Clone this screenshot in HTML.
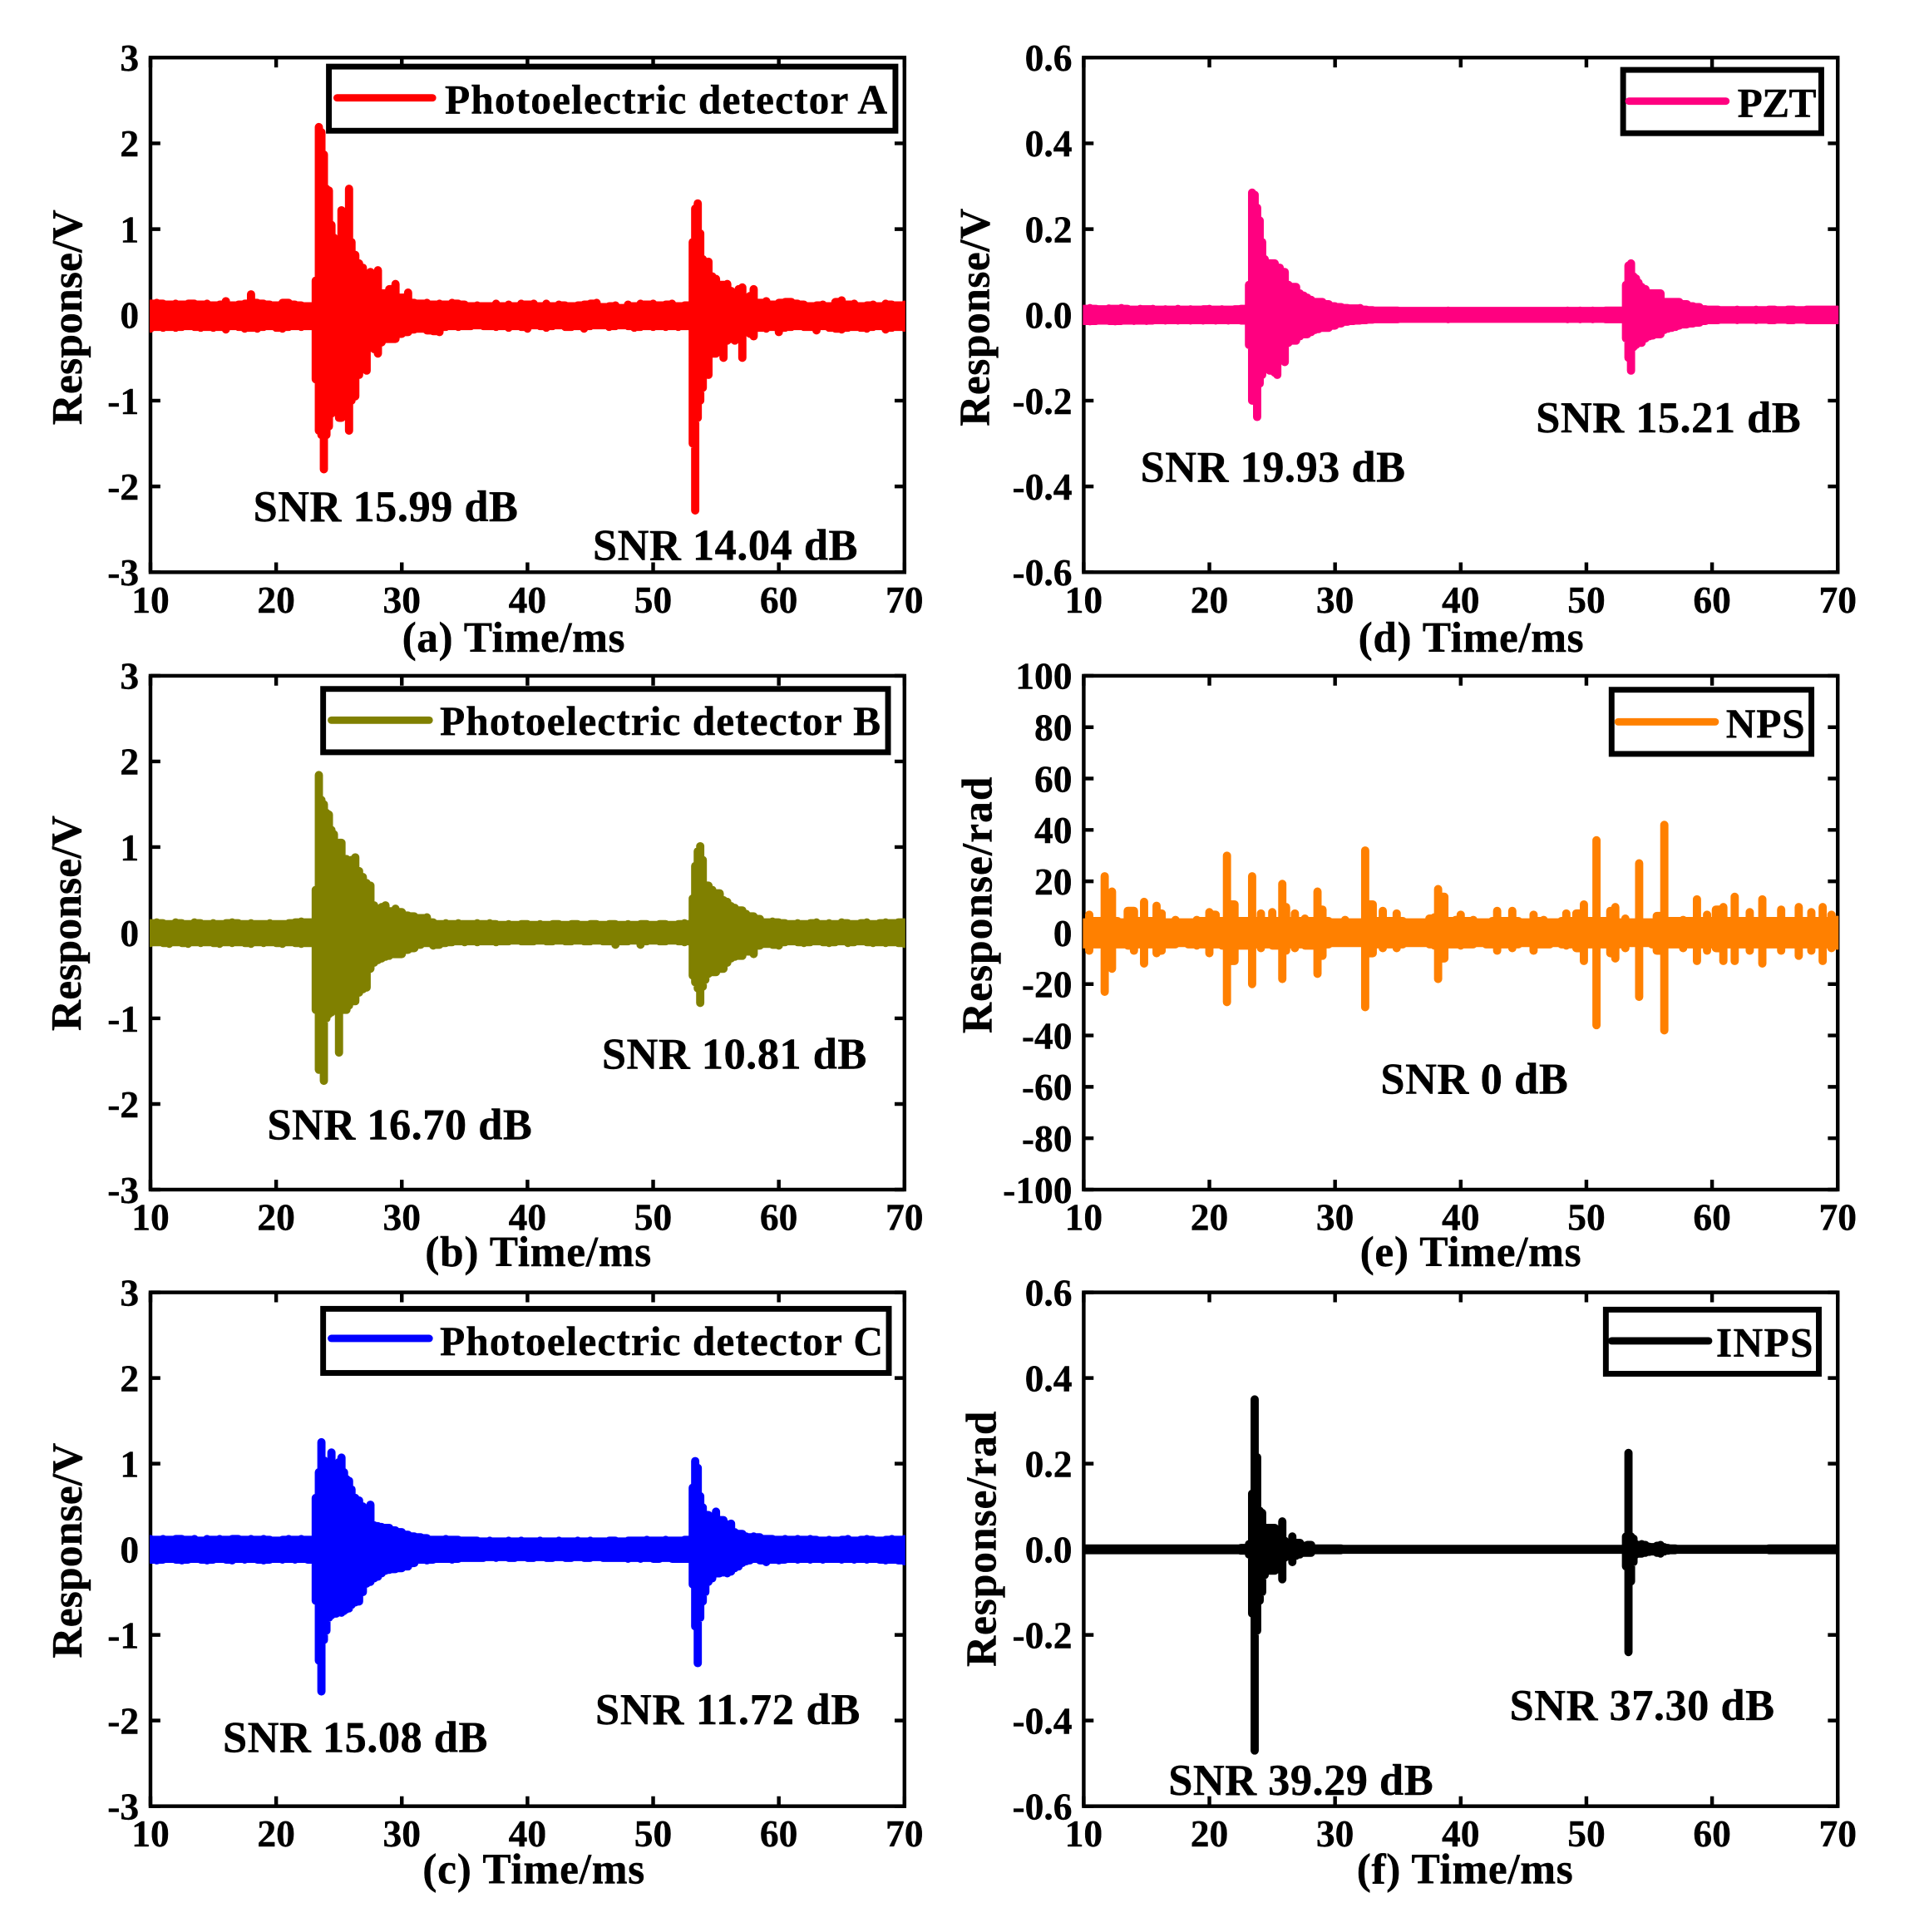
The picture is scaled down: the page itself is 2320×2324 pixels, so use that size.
<!DOCTYPE html>
<html lang="en">
<head>
<meta charset="utf-8">
<title>Response signals and SNR</title>
<style>
html,body{margin:0;padding:0;background:#fff;}
svg{display:block;}
text{font-family:"Liberation Serif",serif;font-weight:bold;fill:#000;stroke:#000;stroke-width:.4px;}
.tick{font-size:46px;}
.lab{font-size:52px;}
.leg{font-size:50px;}
.snr{font-size:53px;}
</style>
</head>
<body>
<svg id="figure" xmlns="http://www.w3.org/2000/svg" width="2320" height="2324" viewBox="0 0 2346 2350">
<rect width="2346" height="2350" fill="#fff"/>

<g id="panel-a">
<g id="plot-a"></g>
<text class="lab" text-anchor="middle" textLength="262" transform="translate(99,386) rotate(-90)">Response/V</text>
<text class="lab" x="489" y="793" textLength="271">(a) Time/ms</text>
<rect x="400" y="81" width="689" height="78" fill="#fff" stroke="#000" stroke-width="7"/>
<line x1="410" y1="119" x2="526" y2="119" stroke="#ff0000" stroke-width="9" stroke-linecap="round"/>
<text class="leg" x="541" y="138" textLength="538">Photoelectric detector A</text>
<text class="snr" x="308" y="634" textLength="322">SNR 15.99 dB</text>
<text class="snr" x="721" y="681" textLength="322">SNR 14.04 dB</text>
</g>

<g id="panel-b">
<g id="plot-b"></g>
<text class="lab" text-anchor="middle" textLength="262" transform="translate(98,1123) rotate(-90)">Response/V</text>
<text class="lab" x="517" y="1540" textLength="275">(b) Time/ms</text>
<rect x="393" y="838" width="687" height="77" fill="#fff" stroke="#000" stroke-width="7"/>
<line x1="403" y1="876" x2="522" y2="876" stroke="#808000" stroke-width="9" stroke-linecap="round"/>
<text class="leg" x="535" y="894" textLength="536">Photoelectric detector B</text>
<text class="snr" x="325" y="1386" textLength="322">SNR 16.70 dB</text>
<text class="snr" x="732" y="1300" textLength="322">SNR 10.81 dB</text>
</g>

<g id="panel-c">
<g id="plot-c"></g>
<text class="lab" text-anchor="middle" textLength="262" transform="translate(99,1886) rotate(-90)">Response/V</text>
<text class="lab" x="514" y="2291" textLength="270">(c) Time/ms</text>
<rect x="393" y="1592" width="688" height="78" fill="#fff" stroke="#000" stroke-width="7"/>
<line x1="403" y1="1628" x2="522" y2="1628" stroke="#0000ff" stroke-width="9" stroke-linecap="round"/>
<text class="leg" x="535" y="1648" textLength="539">Photoelectric detector C</text>
<text class="snr" x="271" y="2131" textLength="322">SNR 15.08 dB</text>
<text class="snr" x="724" y="2097" textLength="322">SNR 11.72 dB</text>
</g>

<g id="panel-d">
<g id="plot-d"></g>
<text class="lab" text-anchor="middle" textLength="265" transform="translate(1203,386) rotate(-90)">Response/V</text>
<text class="lab" x="1652" y="793" textLength="274">(d) Time/ms</text>
<rect x="1974" y="85" width="241" height="77" fill="#fff" stroke="#000" stroke-width="7"/>
<line x1="1981" y1="123" x2="2099" y2="123" stroke="#ff0080" stroke-width="9" stroke-linecap="round"/>
<text class="leg" x="2113" y="142" textLength="96">PZT</text>
<text class="snr" x="1387" y="586" textLength="322">SNR 19.93 dB</text>
<text class="snr" x="1868" y="526" textLength="322">SNR 15.21 dB</text>
</g>

<g id="panel-e">
<g id="plot-e"></g>
<text class="lab" text-anchor="middle" textLength="312" transform="translate(1206,1101) rotate(-90)">Response/rad</text>
<text class="lab" x="1654" y="1540" textLength="269">(e) Time/ms</text>
<rect x="1960" y="839" width="243" height="78" fill="#fff" stroke="#000" stroke-width="7"/>
<line x1="1968" y1="878" x2="2086" y2="878" stroke="#ff8000" stroke-width="9" stroke-linecap="round"/>
<text class="leg" x="2099" y="897" textLength="96">NPS</text>
<text class="snr" x="1679" y="1330" textLength="228">SNR 0 dB</text>
</g>

<g id="panel-f">
<g id="plot-f"></g>
<text class="lab" text-anchor="middle" textLength="311" transform="translate(1211,1872) rotate(-90)">Response/rad</text>
<text class="lab" x="1650" y="2291" textLength="263">(f) Time/ms</text>
<rect x="1953" y="1593" width="259" height="78" fill="#fff" stroke="#000" stroke-width="7"/>
<line x1="1960" y1="1631" x2="2078" y2="1631" stroke="#000" stroke-width="9" stroke-linecap="round"/>
<text class="leg" x="2087" y="1650" textLength="118">INPS</text>
<text class="snr" x="1421" y="2183" textLength="322">SNR 39.29 dB</text>
<text class="snr" x="1836" y="2092" textLength="322">SNR 37.30 dB</text>
</g>
</svg>

<script>
// Shared sample times (ms) for panels a, b, c, d, f
const timeMs = [
10,10.5,11,11.5,12,12.5,13,13.5,14,14.5,15,15.5,16,16.5,17,17.5,18,18.5,19,19.5,20,20.5,21,21.5,22,22.5,23.15,
23.4,23.6,23.8,24,24.2,24.4,24.6,24.8,25,25.2,25.4,25.6,25.8,26,26.3,26.6,26.9,27.2,27.5,27.8,28.1,28.4,28.7,29,29.5,30,
30.5,31,31.5,32,32.5,33,33.5,34,34.5,35,35.5,36,36.5,37,37.5,38,38.5,39,39.5,40,40.5,41,41.5,42,42.5,43,43.5,44,44.5,45,45.5,46,46.5,47,47.5,48,48.5,49,49.5,50,50.5,51,51.5,52,52.5,53,
53.15,53.35,53.55,53.75,53.95,54.15,54.4,54.7,55,55.3,55.6,55.9,56.2,56.5,56.8,57.1,57.4,57.7,58,58.5,
59,59.5,60,60.5,61,61.5,62,62.5,63,63.5,64,64.5,65,65.5,66,66.5,67,67.5,68,68.5,69,69.5,70
];

const upperA = [
.13,.14,.13,.12,.13,.12,.13,.13,.12,.13,.11,.12,.16,.11,.12,.13,.24,.14,.13,.12,.11,.14,.14,.12,.11,.1,.4,
2.19,2.13,1.87,1.47,1.45,1.05,.9,.85,.8,1.22,.75,.7,1.47,.85,.7,.6,.55,.45,.5,.45,.52,.25,.25,.3,.36,.2,
.26,.14,.13,.14,.12,.13,.12,.14,.13,.12,.1,.11,.1,.1,.13,.1,.12,.1,.13,.12,.13,.1,.13,.1,.12,.11,.1,.11,.12,.13,.14,.09,.1,.11,.08,.12,.1,.13,.12,.13,.11,.12,.13,.1,.11,.12,
.85,1.24,1.3,.95,.65,.5,.62,.45,.42,.35,.35,.36,.28,.22,.3,.32,.2,.22,.3,.14,
.16,.12,.14,.15,.15,.13,.12,.1,.11,.12,.1,.15,.17,.12,.13,.1,.11,.12,.1,.13,.12,.11,.12
];
const lowerA = [
-.16,-.14,-.15,-.14,-.15,-.14,-.13,-.14,-.15,-.14,-.15,-.14,-.17,-.13,-.14,-.16,-.15,-.16,-.14,-.13,-.15,-.16,-.14,-.13,-.14,-.13,-.75,
-1.35,-1.4,-1.8,-1.4,-1.3,-1.15,-.95,-1.1,-1.2,-1.2,-1,-1.1,-1.35,-1,-.95,-.7,-.55,-.65,-.35,-.4,-.45,-.32,-.28,-.28,-.28,-.22,
-.2,-.17,-.16,-.18,-.19,-.2,-.14,-.13,-.14,-.13,-.13,-.12,-.13,-.13,-.14,-.13,-.15,-.13,-.14,-.16,-.12,-.13,-.15,-.13,-.12,-.14,-.14,-.13,-.16,-.13,-.12,-.12,-.14,-.13,-.12,-.13,-.15,-.14,-.13,-.14,-.13,-.14,-.13,-.14,-.13,-.14,
-1.5,-2.28,-1.2,-1,-.85,-.6,-.7,-.45,-.45,-.38,-.5,-.3,-.28,-.3,-.28,-.5,-.2,-.22,-.25,-.15,
-.16,-.14,-.2,-.15,-.14,-.13,-.14,-.14,-.18,-.13,-.15,-.16,-.17,-.15,-.14,-.15,-.16,-.14,-.13,-.17,-.15,-.14,-.15
];

const upperB = [
.11,.12,.11,.1,.12,.11,.1,.12,.11,.1,.11,.1,.11,.12,.11,.1,.11,.1,.1,.11,.1,.1,.11,.12,.13,.12,.5,
1.84,1.55,1.5,1.4,1.38,1.2,1.15,1,1.05,1.05,.85,.86,.8,.85,.88,.72,.65,.58,.55,.32,.28,.3,.32,.25,.28,.24,
.2,.19,.17,.18,.12,.1,.11,.1,.11,.1,.1,.11,.1,.11,.1,.09,.1,.09,.1,.1,.09,.1,.09,.1,.1,.09,.1,.1,.09,.1,.1,.09,.1,.1,.09,.1,.09,.1,.1,.09,.1,.1,.09,.1,.11,.1,
.4,.78,.95,1.01,.85,.55,.55,.5,.46,.46,.38,.36,.31,.29,.26,.26,.22,.19,.19,.16,
.12,.13,.12,.11,.1,.11,.1,.11,.12,.1,.11,.1,.12,.11,.1,.11,.12,.1,.11,.12,.11,.12,.12
];
const lowerB = [
-.12,-.11,-.12,-.13,-.11,-.12,-.13,-.11,-.12,-.11,-.12,-.13,-.11,-.12,-.11,-.12,-.13,-.11,-.12,-.11,-.12,-.13,-.11,-.12,-.13,-.12,-.9,
-1.6,-1.5,-1.73,-1,-.95,-.93,-.9,-.9,-1.4,-.9,-.9,-.9,-.85,-.8,-.8,-.7,-.66,-.64,-.42,-.35,-.32,-.3,-.28,-.27,-.25,-.25,
-.2,-.18,-.14,-.12,-.15,-.14,-.12,-.11,-.1,-.11,-.1,-.11,-.1,-.1,-.11,-.1,-.1,-.09,-.1,-.1,-.1,-.09,-.1,-.1,-.09,-.1,-.1,-.09,-.1,-.1,-.09,-.1,-.1,-.14,-.1,-.1,-.09,-.14,-.1,-.09,-.1,-.1,-.09,-.1,-.11,-.1,
-.5,-.58,-.65,-.82,-.63,-.55,-.48,-.46,-.46,-.42,-.42,-.35,-.3,-.28,-.27,-.27,-.22,-.22,-.25,-.15,
-.13,-.14,-.15,-.11,-.1,-.11,-.12,-.11,-.1,-.11,-.12,-.11,-.1,-.12,-.11,-.1,-.11,-.12,-.11,-.12,-.11,-.12,-.13
];

const upperC = [
.12,.11,.12,.11,.12,.12,.11,.12,.1,.12,.11,.12,.11,.12,.12,.11,.12,.11,.12,.11,.1,.11,.12,.11,.12,.11,.6,
.9,1.25,1.04,.95,1,1.13,1,.95,1.02,1.07,.9,.82,.8,.7,.6,.57,.5,.45,.52,.28,.27,.26,.25,.25,.22,.2,
.17,.15,.14,.13,.11,.11,.12,.11,.11,.1,.1,.1,.09,.1,.09,.09,.1,.09,.1,.09,.09,.1,.09,.09,.1,.09,.09,.1,.09,.1,.09,.09,.1,.1,.09,.1,.1,.1,.11,.1,.1,.11,.1,.1,.11,.11,
.72,1.03,.95,.62,.49,.4,.4,.38,.44,.34,.34,.29,.3,.2,.18,.18,.15,.14,.15,.14,
.12,.12,.11,.12,.11,.12,.11,.12,.11,.1,.11,.1,.11,.12,.1,.11,.12,.11,.1,.11,.12,.11,.12
];
const lowerC = [
-.12,-.13,-.12,-.11,-.12,-.13,-.12,-.11,-.12,-.13,-.12,-.11,-.12,-.13,-.11,-.12,-.11,-.12,-.13,-.12,-.11,-.12,-.11,-.12,-.11,-.12,-.6,
-1.3,-1.66,-1.06,-.95,-.8,-.77,-.75,-.75,-.73,-.74,-.72,-.7,-.69,-.65,-.62,-.61,-.5,-.4,-.38,-.34,-.32,-.28,-.25,-.24,-.23,-.22,
-.2,-.16,-.12,-.13,-.12,-.11,-.11,-.12,-.11,-.1,-.1,-.1,-.1,-.09,-.1,-.09,-.1,-.1,-.09,-.1,-.1,-.09,-.1,-.1,-.09,-.1,-.1,-.09,-.1,-.1,-.09,-.1,-.1,-.1,-.1,-.11,-.1,-.11,-.1,-.11,-.11,-.1,-.11,-.11,-.11,-.12,
-.41,-.9,-1.33,-.8,-.61,-.5,-.38,-.34,-.28,-.28,-.27,-.28,-.26,-.22,-.2,-.16,-.14,-.13,-.11,-.13,
-.15,-.12,-.13,-.12,-.11,-.12,-.11,-.12,-.11,-.12,-.11,-.11,-.12,-.11,-.12,-.11,-.12,-.11,-.12,-.13,-.12,-.13,-.14
];

const upperD = [
.014,.016,.014,.013,.015,.014,.016,.014,.012,.014,.013,.014,.012,.013,.012,.014,.012,.013,.012,.013,.014,.012,.013,.012,.013,.014,.07,
.285,.28,.25,.22,.17,.13,.12,.12,.12,.12,.11,.11,.1,.1,.07,.065,.065,.05,.045,.04,.035,.03,.03,.03,.025,.02,
.018,.016,.015,.016,.012,.011,.01,.01,.01,.01,.009,.009,.009,.009,.009,.009,.009,.01,.009,.009,.009,.009,.009,.009,.009,.009,.009,.009,.009,.009,.009,.009,.009,.009,.009,.009,.01,.009,.01,.009,.01,.009,.01,.01,.01,.01,
.07,.115,.12,.09,.085,.075,.065,.06,.05,.05,.05,.05,.03,.03,.03,.03,.03,.025,.025,.02,
.018,.013,.012,.012,.011,.011,.012,.011,.011,.012,.011,.012,.012,.011,.012,.012,.011,.012,.012,.012,.012,.012,.012
];
const lowerD = [
-.014,-.015,-.014,-.013,-.014,-.015,-.014,-.013,-.014,-.013,-.014,-.013,-.012,-.013,-.012,-.013,-.012,-.013,-.012,-.013,-.012,-.013,-.012,-.013,-.012,-.013,-.07,
-.2,-.2,-.238,-.16,-.14,-.126,-.125,-.13,-.13,-.135,-.14,-.085,-.085,-.11,-.065,-.06,-.06,-.05,-.045,-.045,-.04,-.035,-.033,-.03,-.03,-.025,
-.02,-.016,-.014,-.013,-.012,-.011,-.01,-.01,-.01,-.01,-.009,-.009,-.009,-.009,-.009,-.009,-.009,-.01,-.009,-.009,-.009,-.009,-.009,-.009,-.009,-.009,-.009,-.009,-.009,-.009,-.009,-.009,-.009,-.009,-.009,-.009,-.01,-.009,-.01,-.009,-.01,-.009,-.01,-.01,-.01,-.01,
-.055,-.1,-.13,-.075,-.07,-.065,-.065,-.055,-.05,-.048,-.045,-.045,-.035,-.032,-.03,-.028,-.025,-.022,-.022,-.02,
-.018,-.014,-.012,-.012,-.011,-.011,-.012,-.011,-.011,-.012,-.011,-.012,-.012,-.011,-.012,-.012,-.011,-.012,-.012,-.012,-.012,-.012,-.012
];

const upperF = [
.002,.002,.002,.002,.002,.002,.002,.002,.002,.002,.002,.002,.002,.002,.002,.002,.002,.002,.002,.002,.002,.002,.002,.002,.002,.003,.012,
.13,.35,.215,.09,.085,.05,.05,.05,.05,.05,.03,.03,.065,.02,.01,.03,.015,.015,.008,.01,.01,.002,.002,.002,.002,.002,
.002,.001,.001,.001,.001,.001,.001,.001,.001,.001,.001,.001,.001,.001,.001,.001,.001,.001,.001,.001,.001,.001,.001,.001,.001,.001,.001,.001,.001,.001,.001,.001,.001,.001,.001,.001,.001,.001,.001,.001,.001,.001,.001,.001,.001,.002,
.03,.225,.03,.025,.012,.01,.012,.01,.006,.005,.008,.01,.005,.003,.002,.002,.001,.001,.001,.001,
.001,.001,.001,.001,.001,.001,.001,.001,.001,.001,.001,.002,.002,.002,.002,.002,.002,.002,.002,.002,.002,.002,.002
];
const lowerF = [
-.002,-.002,-.002,-.002,-.002,-.002,-.002,-.002,-.002,-.002,-.002,-.002,-.002,-.002,-.002,-.002,-.002,-.002,-.002,-.002,-.002,-.002,-.002,-.002,-.002,-.003,-.012,
-.15,-.47,-.19,-.12,-.1,-.06,-.05,-.05,-.05,-.05,-.04,-.03,-.07,-.02,-.015,-.03,-.015,-.012,-.008,-.008,-.008,-.002,-.002,-.002,-.002,-.002,
-.002,-.001,-.001,-.001,-.001,-.001,-.001,-.001,-.001,-.001,-.001,-.001,-.001,-.001,-.001,-.001,-.001,-.001,-.001,-.001,-.001,-.001,-.001,-.001,-.001,-.001,-.001,-.001,-.001,-.001,-.001,-.001,-.001,-.001,-.001,-.001,-.001,-.001,-.001,-.001,-.001,-.001,-.001,-.001,-.001,-.002,
-.04,-.24,-.075,-.03,-.012,-.01,-.01,-.008,-.006,-.005,-.008,-.01,-.005,-.003,-.002,-.002,-.001,-.001,-.001,-.001,
-.001,-.001,-.001,-.001,-.001,-.001,-.001,-.001,-.001,-.001,-.001,-.002,-.002,-.002,-.002,-.002,-.002,-.002,-.002,-.002,-.002,-.002,-.002
];

// Panel e has its own sample times: NPS spikes fall elsewhere
const timeE = [
10,10.44,11,11.35,11.67,12,12.25,12.7,13.1,13.5,14,14.4,14.8,15.3,15.8,16.2,16.7,17.3,17.8,18.3,
19,19.5,20,20.5,21,21.4,22,22.5,23,23.4,23.8,24.1,24.6,25,25.4,25.8,26.1,26.4,26.8,27.2,
27.6,28.1,28.6,29,29.5,30,30.4,30.8,31.3,31.8,32.4,33,33.4,33.8,34.4,34.9,35.4,36,36.5,37,
37.5,37.9,38.2,38.7,39.2,39.6,40,40.5,41,41.5,42,42.5,42.9,43.5,44.1,44.6,45.2,45.8,46.2,46.6,
47.1,47.6,48,48.4,48.8,49.2,49.8,50.3,50.8,51.3,51.9,52.3,52.7,53.1,53.6,54.2,54.7,55.2,55.6,56.2,
56.7,57.2,57.7,58.2,58.8,59.2,59.6,60,60.3,60.9,61.3,61.8,62.4,63,63.5,64,64.5,65,65.5,66,
66.5,66.9,67.4,67.9,68.3,68.8,69.2,69.5,70
];
const upperE = [
4,7,4.5,4.5,22,4.5,16,4.5,4,8.5,8.5,4.5,12,4.5,10.5,7.5,4,5,4,4,
5,4.5,8,7,4.5,30,11,4.5,4.5,22,4.5,7.5,4.5,8,4.5,19,10,4.5,7.5,4.5,
5.5,4.5,16,9,4.5,4,4,5,4,4,32,11,4.5,8.5,4.5,7.5,4.5,4,4,4,
5.5,6,17,14,4.5,5,7,4.5,5,4,4,4.5,8.5,4.5,8.5,4.5,4,7,4.5,5,
4,4,4.5,7.5,4.5,7.5,11,4.5,36,4.5,8.5,10,4,5.5,4,27,4,4,6.5,42,
4.5,4.5,5,4.5,13,4.5,7,4.5,9,10,4.5,14,4.5,8,4.5,13,4.5,4.5,9,4.5,
4.5,10,4.5,8,4.5,10,4.5,7,5
];
const lowerE = [
-4.5,-7,-4.5,-4.5,-23,-5,-14,-4.5,-4.5,-5,-7,-4.5,-12,-4.5,-8,-7,-4.5,-4.5,-4,-4.5,
-5,-4.5,-8,-4.5,-5,-27,-11,-5,-5,-20,-4.5,-6,-4.5,-5,-5,-18,-7,-4.5,-6,-4.5,
-5,-5,-16,-9,-4.5,-4,-4,-4,-4,-4,-29,-8,-4.5,-6,-4.5,-6,-4.5,-4,-4,-4,
-4.5,-5,-18,-10,-4.5,-4.5,-5,-4.5,-4.5,-4,-4.5,-4.5,-7,-4.5,-6,-4.5,-4,-7,-4.5,-4.5,
-4.5,-4,-4.5,-5,-4.5,-6,-11,-4.5,-36,-4.5,-8,-10,-4.5,-6,-4,-25,-4,-4.5,-7,-38,
-4.5,-4.5,-6,-4.5,-11,-4.5,-7,-4.5,-6,-11,-4.5,-11,-4.5,-7,-4.5,-12,-4.5,-4.5,-7,-4.5,
-4.5,-9,-4.5,-7,-4.5,-11,-4.5,-6,-5
];

// Axis tick values
const xTicks = [10,20,30,40,50,60,70];
const yTicksVolt = [-3,-2,-1,0,1,2,3];
const yTicksFine = [-0.6,-0.4,-0.2,0,0.2,0.4,0.6];
const yTicksNps = [-100,-80,-60,-40,-20,0,20,40,60,80,100];

const SVGNS = 'http://www.w3.org/2000/svg';

function axisX(left, right) {
  return function (t) { return left + (t - 10) * (right - left) / 60; };
}
function axisY(top, bottom, maxVal) {
  return function (v) { return top + (maxVal - v) * (bottom - top) / (2 * maxVal); };
}
function el(parent, tag) {
  const node = document.createElementNS(SVGNS, tag);
  parent.appendChild(node);
  return node;
}

function drawPanel(id, left, right, top, bottom, yTicks, yFormat, times, upper, lower, color) {
  const x = axisX(left, right);
  const y = axisY(top, bottom, yTicks[yTicks.length - 1]);
  const root = document.getElementById('plot-' + id);

  const frame = el(root, 'rect');
  
  
  frame.setAttribute('x', left);
  frame.setAttribute('y', top);
  frame.setAttribute('width', right - left);
  frame.setAttribute('height', bottom - top);
  frame.setAttribute('fill', 'none');
  frame.setAttribute('stroke', '#000');
  frame.setAttribute('stroke-width', '4.5');

  xTicks.forEach(function (tv) {
    const px = x(tv);
    const mark = el(root, 'path');
    
    
    mark.setAttribute('d', 'M' + px + ' ' + top + 'v12M' + px + ' ' + bottom + 'v-12');
    mark.setAttribute('stroke', '#000');
    mark.setAttribute('stroke-width', '4.5');
    const label = el(root, 'text');
    
    
    label.setAttribute('class', 'tick');
    label.setAttribute('text-anchor', 'middle');
    label.setAttribute('x', px);
    label.setAttribute('y', bottom + 49);
    label.textContent = String(tv);
  });

  yTicks.forEach(function (tv) {
    const py = y(tv);
    const mark = el(root, 'path');
    
    
    mark.setAttribute('d', 'M' + left + ' ' + py + 'h12M' + right + ' ' + py + 'h-12');
    mark.setAttribute('stroke', '#000');
    mark.setAttribute('stroke-width', '4.5');
    const label = el(root, 'text');
    
    
    label.setAttribute('class', 'tick');
    label.setAttribute('text-anchor', 'end');
    label.setAttribute('x', left - 14);
    label.setAttribute('y', py + 16);
    label.textContent = yFormat(tv);
  });

  const clip = el(root, 'clipPath');
  clip.setAttribute('id', 'clip-' + id);
  const clipRect = el(clip, 'rect');
  clipRect.setAttribute('x', left - 1);
  clipRect.setAttribute('y', top);
  clipRect.setAttribute('width', right - left + 2);
  clipRect.setAttribute('height', bottom - top);

  let d = '';
  for (let i = 0; i < times.length; i++) {
    d += 'M' + x(times[i]).toFixed(1) + ' ' + y(upper[i]).toFixed(1) + 'L' + x(times[i]).toFixed(1) + ' ' + y(lower[i]).toFixed(1);
    if (i + 1 < times.length) {
      const hi = Math.min(upper[i], upper[i + 1]);
      const lo = Math.max(lower[i], lower[i + 1]);
      d += 'M' + x(times[i]).toFixed(1) + ' ' + y(hi).toFixed(1) +
           'L' + x(times[i + 1]).toFixed(1) + ' ' + y(hi).toFixed(1) +
           'L' + x(times[i + 1]).toFixed(1) + ' ' + y(lo).toFixed(1) +
           'L' + x(times[i]).toFixed(1) + ' ' + y(lo).toFixed(1) + 'Z';
    }
  }
  const signal = el(root, 'path');
  
  
  signal.setAttribute('d', d);
  signal.setAttribute('fill', color);
  signal.setAttribute('stroke', color);
  signal.setAttribute('stroke-width', '10');
  signal.setAttribute('stroke-linecap', 'round');
  signal.setAttribute('stroke-linejoin', 'round');
  signal.setAttribute('clip-path', 'url(#clip-' + id + ')');
}

function fmtInt(v) { return String(v); }
function fmtFine(v) { return v.toFixed(1); }

drawPanel('a', 183, 1100, 70, 696, yTicksVolt, fmtInt, timeMs, upperA, lowerA, '#ff0000');
drawPanel('b', 183, 1100, 822, 1447, yTicksVolt, fmtInt, timeMs, upperB, lowerB, '#808000');
drawPanel('c', 183, 1100, 1572, 2197, yTicksVolt, fmtInt, timeMs, upperC, lowerC, '#0000ff');
drawPanel('d', 1318, 2235, 70, 696, yTicksFine, fmtFine, timeMs, upperD, lowerD, '#ff0080');
drawPanel('e', 1318, 2235, 822, 1447, yTicksNps, fmtInt, timeE, upperE, lowerE, '#ff8000');
drawPanel('f', 1318, 2235, 1572, 2197, yTicksFine, fmtFine, timeMs, upperF, lowerF, '#000000');
</script>
</body>
</html>
